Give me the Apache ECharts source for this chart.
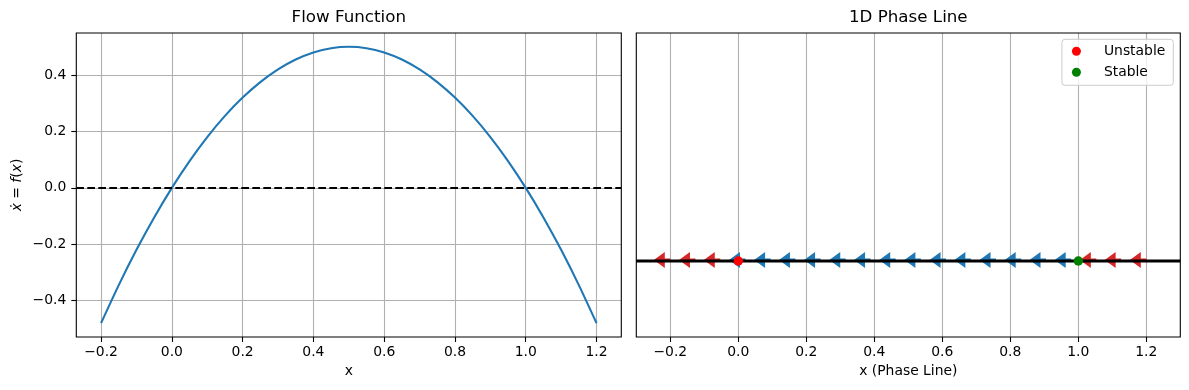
<!DOCTYPE html>
<html><head><meta charset="utf-8">
<script src="https://cdn.jsdelivr.net/npm/echarts@6/dist/echarts.min.js"></script>
<style>html,body{margin:0;padding:0;background:#fff}#c{width:1189px;height:390px}</style>
</head><body><div id="c"></div>
<script>
// Flow function curve
const flowX = [-0.2,-0.15,-0.1,-0.05,0,0.05,0.1,0.15,0.2,0.25,0.3,0.35,0.4,0.45,0.5,0.55,0.6,0.65,0.7,0.75,0.8,0.85,0.9,0.95,1.0,1.05,1.1,1.15,1.2];
const flowY = [-0.48,-0.345,-0.22,-0.105,0,0.095,0.18,0.255,0.32,0.375,0.42,0.455,0.48,0.495,0.5,0.495,0.48,0.455,0.42,0.375,0.32,0.255,0.18,0.095,0,-0.105,-0.22,-0.345,-0.48];
const xTicks = [-0.2,0,0.2,0.4,0.6,0.8,1.0,1.2];
const yTicks = [-0.4,-0.2,0,0.2,0.4];
// Phase line arrows: tail positions and sign group (neg = red, pos = blue)
const arrowX = [-0.2,-0.126,-0.053,0.021,0.095,0.168,0.242,0.316,0.389,0.463,0.537,0.611,0.684,0.758,0.832,0.905,0.979,1.053,1.126,1.2];
const arrowSign = [-1,-1,-1,1,1,1,1,1,1,1,1,1,1,1,1,1,1,-1,-1,-1];
const unstableX = [0];
const stableX = [1];

const FONT = 'DejaVu Sans';
const fmt = v => { const s = Math.abs(v).toFixed(1); return (v < -1e-9 ? '\u2212' : '') + s; };

const chart = echarts.init(document.getElementById('c'), null, {renderer: 'canvas'});

const gridLine = {show: true, lineStyle: {color: '#b0b0b0', width: 1.1}};
const tick = {show: true, length: 5, inside: false, lineStyle: {color: '#000', width: 1.1}};
const lbl = {color: '#000', fontFamily: FONT, fontSize: 13.9, formatter: fmt};

chart.setOption({
  animation: false,
  backgroundColor: '#fff',
  title: [
    {text: 'Flow Function', left: 348.8, top: 9.5, textAlign: 'center', padding: 0,
     textStyle: {fontFamily: FONT, fontSize: 16.7, fontWeight: 'normal', color: '#000'}},
    {text: '1D Phase Line', left: 908.3, top: 9.5, textAlign: 'center', padding: 0,
     textStyle: {fontFamily: FONT, fontSize: 16.7, fontWeight: 'normal', color: '#000'}}
  ],
  legend: {
    data: ['Unstable', 'Stable'],
    orient: 'vertical', right: 15.7, top: 39.3,
    padding: [5, 8, 6, 10],
    itemWidth: 17, itemHeight: 9, itemGap: 7,
    icon: 'circle',
    backgroundColor: 'rgba(255,255,255,0.8)',
    borderColor: '#cccccc', borderWidth: 1, borderRadius: 3,
    textStyle: {fontFamily: FONT, fontSize: 13.9, color: '#000', padding: [0, 0, 0, 14], lineHeight: 14}
  },
  grid: [
    {left: 76.3, right: 1189 - 621.3, top: 33, bottom: 390 - 337, show: true, borderColor: '#000', borderWidth: 1.1, z: 5},
    {left: 636.3, right: 1189 - 1180.3, top: 33, bottom: 390 - 337, show: true, borderColor: '#000', borderWidth: 1.1, z: 5}
  ],
  xAxis: [
    {type: 'value', gridIndex: 0, min: -0.27, max: 1.27,
     name: 'x', nameLocation: 'middle', nameGap: 27,
     nameTextStyle: {fontFamily: FONT, fontSize: 13.9, color: '#000'},
     axisLine: {show: false, onZero: false}, axisTick: Object.assign({customValues: xTicks}, tick),
     axisLabel: Object.assign({customValues: xTicks, margin: 8}, lbl),
     splitLine: gridLine},
    {type: 'value', gridIndex: 1, min: -0.3, max: 1.3,
     name: 'x (Phase Line)', nameLocation: 'middle', nameGap: 27,
     nameTextStyle: {fontFamily: FONT, fontSize: 13.9, color: '#000'},
     axisLine: {show: false, onZero: false}, axisTick: Object.assign({customValues: xTicks}, tick),
     axisLabel: Object.assign({customValues: xTicks, margin: 8}, lbl),
     splitLine: gridLine}
  ],
  yAxis: [
    {type: 'value', gridIndex: 0, min: -0.529, max: 0.549,
     name: '{i|\u1E8B} = {i|f}({i|x})', nameLocation: 'middle', nameGap: 52,
     nameTextStyle: {fontFamily: FONT, fontSize: 13.9, color: '#000',
       rich: {i: {fontFamily: FONT, fontSize: 13.9, fontStyle: 'italic', color: '#000'}}},
     axisLine: {show: false, onZero: false}, axisTick: Object.assign({customValues: yTicks}, tick),
     axisLabel: Object.assign({customValues: yTicks, margin: 10}, lbl),
     splitLine: gridLine},
    {type: 'value', gridIndex: 1, min: -0.25, max: 0.75,
     axisLine: {show: false, onZero: false}, axisTick: {show: false}, axisLabel: {show: false}, splitLine: {show: false}}
  ],
  series: [
    {type: 'line', xAxisIndex: 0, yAxisIndex: 0, data: flowX.map((x, i) => [x, flowY[i]]),
     showSymbol: false, smooth: 0.3, lineStyle: {color: '#1f77b4', width: 2.1}, z: 3,
     markLine: {silent: true, symbol: 'none', label: {show: false},
       lineStyle: {color: '#000', width: 2.1, type: [7.7, 3.3]},
       data: [{yAxis: 0}]}},
    {type: 'custom', xAxisIndex: 1, yAxisIndex: 1, z: 2,
     data: arrowX.map((x, i) => [x, 0, arrowSign[i]]),
     renderItem: function (params, api) {
       const p = api.coord([api.value(0), api.value(1)]);
       const col = api.value(2) < 0 ? '#d62728' : '#1f77b4';
       const tx = p[0], ty = p[1] - 1;
       const L = 16.5, H = 11, hw = 8, sw = 1.6;
       return {type: 'polygon', shape: {points: [[tx - L, ty], [tx - L + H, ty - hw], [tx - L + H, ty - sw], [tx, ty - sw], [tx, ty + sw], [tx - L + H, ty + sw], [tx - L + H, ty + hw]]},
               style: {fill: col}};
     }},
    {type: 'line', xAxisIndex: 1, yAxisIndex: 1, data: [[-0.3, 0], [1.3, 0]], showSymbol: false,
     lineStyle: {color: '#000', width: 2.8}, z: 3, silent: true},
    {name: 'Unstable', type: 'scatter', xAxisIndex: 1, yAxisIndex: 1, data: unstableX.map(x => [x, 0]),
     symbol: 'circle', symbolSize: 9.5, itemStyle: {color: '#ff0000', opacity: 1}, z: 4},
    {name: 'Stable', type: 'scatter', xAxisIndex: 1, yAxisIndex: 1, data: stableX.map(x => [x, 0]),
     symbol: 'circle', symbolSize: 9.5, itemStyle: {color: '#008000', opacity: 1}, z: 4}
  ]
});
</script></body></html>
